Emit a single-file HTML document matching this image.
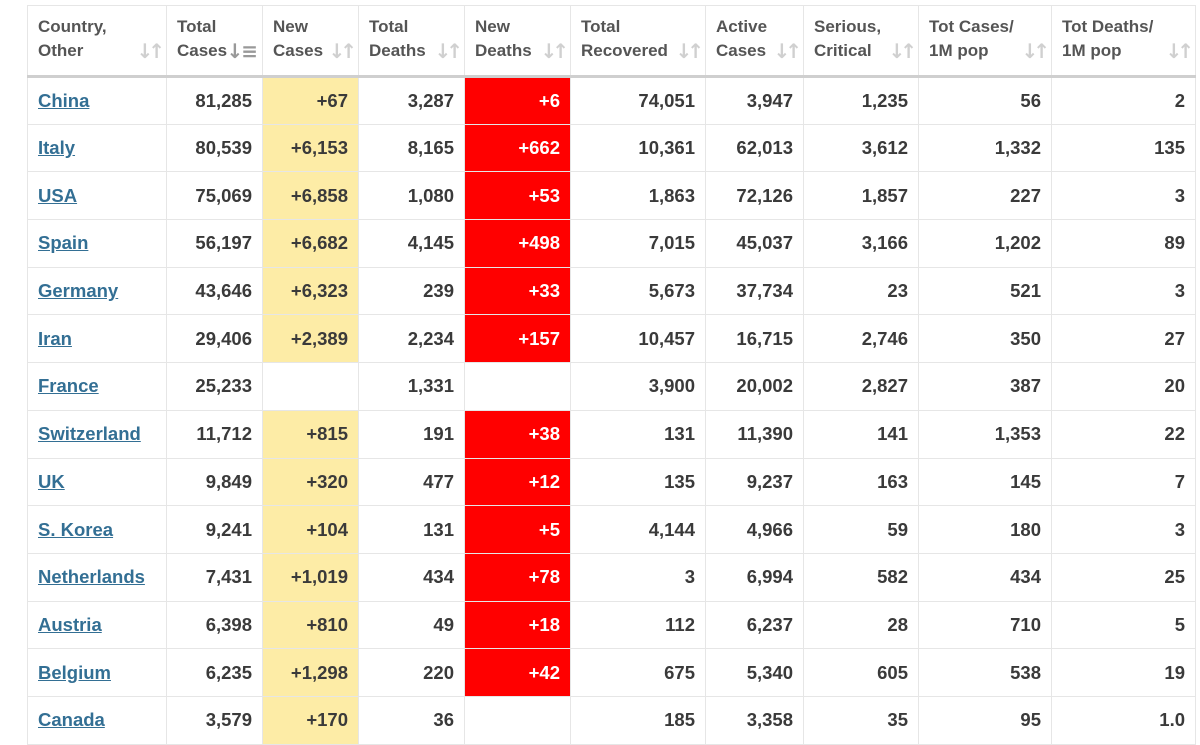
<!DOCTYPE html>
<html><head><meta charset="utf-8"><style>
body{margin:0;background:#fff;width:1200px;height:736px;overflow:hidden;font-family:"Liberation Sans","DejaVu Sans",sans-serif;}
table{position:absolute;left:27px;top:5px;border-collapse:collapse;table-layout:fixed;width:1168px;}
th,td{border:1px solid #e6e6e6;box-sizing:border-box;}
th{height:71px;border-bottom:3px solid #cfcfcf;text-align:left;vertical-align:top;font-weight:bold;color:#555;font-size:17px;line-height:24px;padding:9px 10px 0 10px;position:relative;}
th .s{position:absolute;right:6px;top:33px;color:#d0d0d0;font-size:20px;line-height:24px;font-weight:bold;font-family:"DejaVu Sans",sans-serif;letter-spacing:-5px;}
td{height:47.7px;font-size:18.5px;color:#3a3a3a;text-align:right;padding:0 10px;font-weight:bold;}
td:first-child{text-align:left;}
td a{color:#336f94;text-decoration:underline;font-weight:bold;}
.y{background:#fdeca6;}
.r{background:#ff0000;color:#fff;}
</style></head><body>
<table>
<colgroup><col style="width:139px"><col style="width:96px"><col style="width:96px"><col style="width:106px"><col style="width:106px"><col style="width:135px"><col style="width:98px"><col style="width:115px"><col style="width:133px"><col style="width:144px"></colgroup>
<thead><tr>
<th>Country,<br>Other<span class="s">↓↑</span></th>
<th>Total<br>Cases<span class="s" style="color:#999;letter-spacing:-2px">↓≡</span></th>
<th>New<br>Cases<span class="s">↓↑</span></th>
<th>Total<br>Deaths<span class="s">↓↑</span></th>
<th>New<br>Deaths<span class="s">↓↑</span></th>
<th>Total<br>Recovered<span class="s">↓↑</span></th>
<th>Active<br>Cases<span class="s">↓↑</span></th>
<th>Serious,<br>Critical<span class="s">↓↑</span></th>
<th>Tot Cases/<br>1M pop<span class="s">↓↑</span></th>
<th>Tot Deaths/<br>1M pop<span class="s">↓↑</span></th>
</tr></thead>
<tbody id="tb"></tbody></table>
<script>
const countries=["China","Italy","USA","Spain","Germany","Iran","France","Switzerland","UK","S. Korea","Netherlands","Austria","Belgium","Canada"];
const totalCases=["81,285","80,539","75,069","56,197","43,646","29,406","25,233","11,712","9,849","9,241","7,431","6,398","6,235","3,579"];
const newCases=["+67","+6,153","+6,858","+6,682","+6,323","+2,389","","+815","+320","+104","+1,019","+810","+1,298","+170"];
const totalDeaths=["3,287","8,165","1,080","4,145","239","2,234","1,331","191","477","131","434","49","220","36"];
const newDeaths=["+6","+662","+53","+498","+33","+157","","+38","+12","+5","+78","+18","+42",""];
const recovered=["74,051","10,361","1,863","7,015","5,673","10,457","3,900","131","135","4,144","3","112","675","185"];
const active=["3,947","62,013","72,126","45,037","37,734","16,715","20,002","11,390","9,237","4,966","6,994","6,237","5,340","3,358"];
const serious=["1,235","3,612","1,857","3,166","23","2,746","2,827","141","163","59","582","28","605","35"];
const casesPerM=["56","1,332","227","1,202","521","350","387","1,353","145","180","434","710","538","95"];
const deathsPerM=["2","135","3","89","3","27","20","22","7","3","25","5","19","1.0"];
const tb=document.getElementById('tb');
countries.forEach((c,i)=>{
  const tr=document.createElement('tr');
  
  
  const cells=[[c,'country'],[totalCases[i],'total-cases'],[newCases[i],'new-cases'],[totalDeaths[i],'total-deaths'],[newDeaths[i],'new-deaths'],[recovered[i],'total-recovered'],[active[i],'active-cases'],[serious[i],'serious-critical'],[casesPerM[i],'cases-per-million'],[deathsPerM[i],'deaths-per-million']];
  cells.forEach(([v,n],j)=>{
    const td=document.createElement('td');
    
    
    if(j===0){const a=document.createElement('a');a.textContent=v;
      
      
      td.appendChild(a);}
    else td.textContent=v;
    if(j===2&&v)td.className='y';
    if(j===4&&v)td.className='r';
    tr.appendChild(td);
  });
  tb.appendChild(tr);
});
</script>
</body></html>
